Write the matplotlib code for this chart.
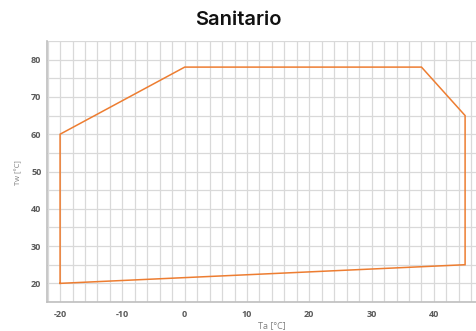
import matplotlib
matplotlib.use("Agg")
import matplotlib.pyplot as plt
from matplotlib.ticker import MultipleLocator

plt.rcParams["axes.unicode_minus"] = False

# Data: operating envelope (closed polygon)
ta = [-20, -20, 0, 38, 45, 45, -20]
tw = [20, 60, 78, 78, 65, 25, 20]
x_ticks = [-20, -10, 0, 10, 20, 30, 40]
y_ticks = [20, 30, 40, 50, 60, 70, 80]

W, H = 476, 331
fig = plt.figure(figsize=(W / 100, H / 100), dpi=100)
ax = fig.add_axes([47 / W, 29 / H, 1 - 47 / W, 261 / H])

ax.plot(ta, tw, color="#ED7D31", lw=1.1, solid_joinstyle="miter", zorder=3)

ax.set_xlim(-22.1, 46.75)
ax.set_ylim(15, 85)
ax.set_xticks(x_ticks)
ax.set_yticks(y_ticks)
ax.xaxis.set_minor_locator(MultipleLocator(2))
ax.yaxis.set_minor_locator(MultipleLocator(5))
ax.grid(which="both", color="#d9d9d9", lw=0.9, zorder=0)
ax.set_axisbelow(True)

for s in ["top", "right"]:
    ax.spines[s].set_visible(False)
for s in ["left", "bottom"]:
    ax.spines[s].set_color("#bfbfbf")
    ax.spines[s].set_linewidth(1.2)

ax.tick_params(which="both", length=0, labelsize=6.5, labelcolor="#595959", pad=4)
for lab in ax.get_xticklabels() + ax.get_yticklabels():
    lab.set_fontfamily("Open Sans")
    lab.set_fontweight("bold")
ax.tick_params(axis="x", pad=6)

fig.text(0.5, 1 - 20 / H, "Sanitario", ha="center", va="center",
         fontsize=14.5, fontfamily="Inter", fontweight="semibold", color="#111111")
fig.text(19 / W, 1 - 173 / H, "Tw [°C]", ha="center", va="center", rotation=90,
         fontsize=5.5, fontfamily="Open Sans", color="#808080")
fig.text(272 / W, 1 - 326 / H, "Ta [°C]", ha="center", va="center",
         fontsize=6.5, fontfamily="Open Sans", color="#808080")

fig.savefig("out.png", dpi=100)
